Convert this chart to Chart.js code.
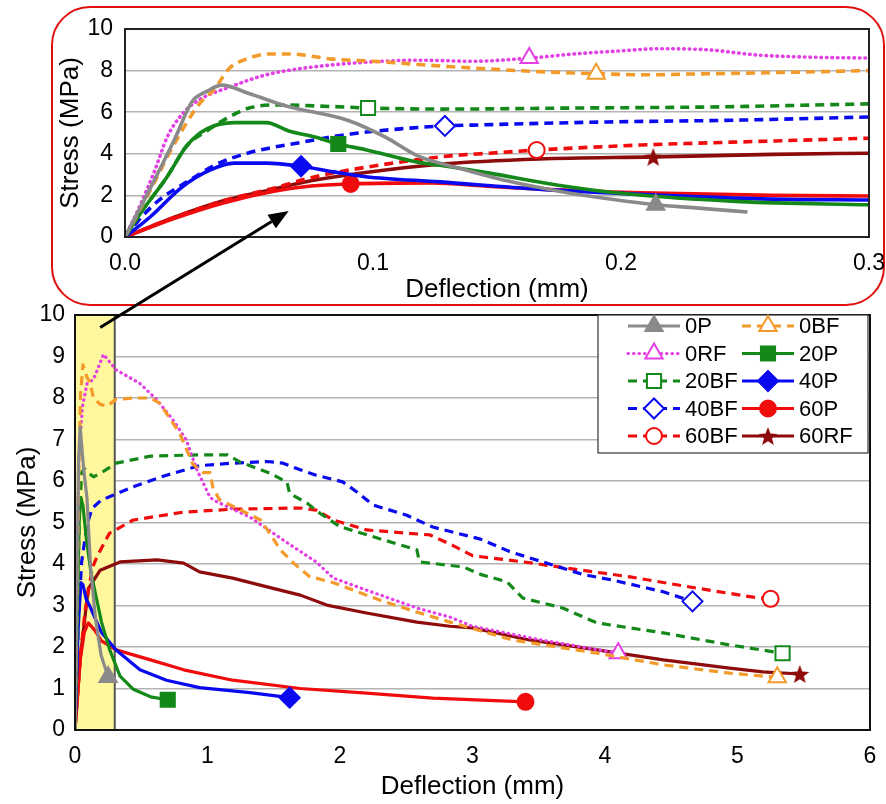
<!DOCTYPE html>
<html>
<head>
<meta charset="utf-8">
<script src="https://cdn.jsdelivr.net/npm/chart.js@4.4.0/dist/chart.umd.min.js"></script>
<style>
  html, body { margin: 0; padding: 0; background: #fff; }
  #wrap { position: relative; width: 886px; height: 804px; }
  canvas { position: absolute; left: 0; top: 0; }
  #arrow { pointer-events: none; }
</style>
</head>
<body>
<div id="wrap">
  <canvas id="main" width="886" height="804"></canvas>
  <canvas id="inset" width="886" height="310"></canvas>
  <canvas id="arrow" width="886" height="804"></canvas>
</div>
<script>
const seriesNames = ['0P', '0BF', '0RF', '20P', '20BF', '40P', '40BF', '60P', '60BF', '60RF'];
const seriesColors = ['#8a8a8a', '#f39a2b', '#e43fe4', '#14891a', '#14891a', '#0a0af0', '#0a0af0', '#f00c0c', '#f00c0c', '#8e0b0b'];
const lineKinds = ['solid', 'dash', 'dot', 'solid', 'dash', 'solid', 'dash', 'solid', 'dash', 'solid'];
const markerShapes = ['triangle', 'triangle', 'triangle', 'rect', 'rect', 'rectRot', 'rectRot', 'circle', 'circle', 'star'];
const markerFilled = [true, false, false, true, false, true, false, true, false, true];

// inset curves, deflection 0 - 0.3 mm  [mm, MPa]
const zoom0P = [[0,0],[0.01,2.3],[0.02,4.7],[0.027,6.5],[0.033,7.0],[0.039,7.3],[0.05,6.9],[0.065,6.3],[0.09,5.6],[0.105,4.8],[0.118,3.9],[0.135,3.3],[0.154,2.7],[0.175,2.2],[0.197,1.8],[0.214,1.55],[0.23,1.4],[0.251,1.2]];
const zoom0BF = [[0,0],[0.01,2.2],[0.02,4.5],[0.03,6.4],[0.036,7.1],[0.042,8.1],[0.05,8.6],[0.058,8.8],[0.066,8.8],[0.084,8.55],[0.1,8.45],[0.13,8.2],[0.167,7.95],[0.19,7.85],[0.21,7.8],[0.235,7.85],[0.26,7.9],[0.3,8.0]];
const zoom0RF = [[0,0],[0.006,1.5],[0.012,3.2],[0.017,4.8],[0.023,5.9],[0.03,6.6],[0.042,7.2],[0.057,7.8],[0.071,8.1],[0.091,8.35],[0.118,8.5],[0.14,8.45],[0.163,8.6],[0.181,8.8],[0.2,8.95],[0.215,9.05],[0.235,9.0],[0.255,8.75],[0.275,8.65],[0.3,8.6]];
const zoom20P = [[0,0],[0.006,1.1],[0.017,2.9],[0.025,4.4],[0.033,5.2],[0.044,5.5],[0.057,5.5],[0.066,5.1],[0.077,4.8],[0.086,4.47],[0.097,4.2],[0.118,3.6],[0.127,3.45],[0.147,3.07],[0.174,2.5],[0.2,2.1],[0.248,1.7],[0.3,1.55]];
const zoom20BF = [[0,0],[0.006,1.1],[0.017,2.9],[0.025,4.4],[0.033,5.1],[0.041,5.7],[0.05,6.2],[0.061,6.35],[0.084,6.27],[0.098,6.2],[0.127,6.15],[0.181,6.2],[0.235,6.25],[0.3,6.4]];
const zoom40P = [[0,0],[0.01,0.95],[0.023,2.4],[0.034,3.2],[0.044,3.55],[0.057,3.55],[0.071,3.4],[0.084,3.13],[0.097,2.9],[0.127,2.65],[0.167,2.3],[0.208,2.05],[0.261,1.82],[0.3,1.78]];
const zoom40BF = [[0,0],[0.007,1.0],[0.014,1.8],[0.025,2.65],[0.037,3.5],[0.05,4.05],[0.071,4.55],[0.091,4.95],[0.111,5.2],[0.129,5.34],[0.14,5.38],[0.194,5.53],[0.248,5.62],[0.3,5.77]];
const zoom60P = [[0,0],[0.02,0.9],[0.04,1.65],[0.06,2.2],[0.075,2.45],[0.091,2.55],[0.124,2.6],[0.145,2.45],[0.167,2.3],[0.208,2.12],[0.261,2.0],[0.3,1.97]];
const zoom60BF = [[0,0],[0.02,0.95],[0.04,1.75],[0.06,2.35],[0.075,2.85],[0.097,3.35],[0.131,3.9],[0.147,4.03],[0.166,4.18],[0.208,4.42],[0.248,4.57],[0.3,4.75]];
const zoom60RF = [[0,0],[0.02,0.95],[0.04,1.75],[0.06,2.3],[0.075,2.7],[0.097,3.1],[0.127,3.5],[0.167,3.75],[0.213,3.85],[0.261,3.97],[0.3,4.03]];
const zoomMarkX = [0.214, 0.19, 0.163, 0.086, 0.098, 0.071, 0.129, 0.091, 0.166, 0.213];

// full curves, deflection 0 - 6 mm
const full0P = [[0,0],[0.027,6.5],[0.039,7.3],[0.065,6.3],[0.09,5.6],[0.118,3.9],[0.154,2.7],[0.197,1.8],[0.25,1.28]];
const full0BF = [[0,0],[0.03,6.4],[0.042,8.1],[0.06,8.8],[0.09,8.5],[0.11,8.4],[0.14,8.0],[0.19,7.85],[0.24,7.8],[0.31,7.97],[0.45,8.0],[0.57,8.0],[0.64,7.87],[0.79,7.15],[0.89,6.4],[0.97,6.2],[1.02,6.2],[1.04,5.85],[1.09,5.55],[1.25,5.3],[1.4,5.06],[1.47,4.74],[1.55,4.34],[1.65,4.02],[1.77,3.7],[1.95,3.55],[2.3,3.13],[2.58,2.84],[2.83,2.6],[3.3,2.17],[3.94,1.85],[4.44,1.57],[4.94,1.37],[5.3,1.27]];
const full0RF = [[0,0],[0.012,3.2],[0.03,6.6],[0.057,7.8],[0.091,8.35],[0.14,8.45],[0.215,9.05],[0.31,8.68],[0.49,8.35],[0.62,7.95],[0.74,7.47],[0.84,6.99],[0.92,6.27],[1.02,5.6],[1.07,5.5],[1.32,5.13],[1.57,4.58],[1.82,4.05],[1.95,3.66],[2.2,3.37],[2.58,2.94],[2.83,2.72],[3.0,2.5],[3.5,2.18],[4.1,1.85]];
const full20P = [[0,0],[0.017,2.9],[0.033,5.2],[0.045,5.6],[0.06,5.4],[0.086,4.6],[0.12,3.8],[0.16,3.2],[0.2,2.6],[0.26,1.95],[0.34,1.3],[0.44,0.98],[0.57,0.8],[0.7,0.73]];
const full20BF = [[0,0],[0.017,2.9],[0.033,5.1],[0.05,6.2],[0.07,6.3],[0.1,6.2],[0.14,6.1],[0.2,6.2],[0.31,6.43],[0.57,6.6],[0.94,6.63],[1.15,6.63],[1.25,6.45],[1.47,6.19],[1.6,5.97],[1.62,5.7],[1.75,5.47],[1.85,5.22],[2.0,4.9],[2.33,4.58],[2.58,4.34],[2.6,4.05],[2.93,3.93],[3.06,3.75],[3.26,3.57],[3.38,3.18],[3.68,2.94],[3.94,2.58],[4.44,2.34],[4.94,2.05],[5.34,1.85]];
const full40P = [[0,0],[0.023,2.4],[0.044,3.55],[0.06,3.5],[0.085,3.15],[0.11,3.0],[0.15,2.7],[0.2,2.35],[0.31,1.93],[0.49,1.45],[0.69,1.2],[0.94,1.02],[1.32,0.9],[1.62,0.78]];
const full40BF = [[0,0],[0.025,2.65],[0.05,4.05],[0.091,4.95],[0.129,5.34],[0.194,5.53],[0.26,5.62],[0.44,5.86],[0.69,6.14],[0.94,6.37],[1.19,6.43],[1.45,6.47],[1.57,6.43],[1.7,6.27],[1.82,6.14],[2.02,5.98],[2.13,5.73],[2.25,5.42],[2.5,5.18],[2.7,4.89],[3.06,4.6],[3.28,4.3],[3.58,4.0],[3.83,3.75],[4.06,3.61],[4.44,3.33],[4.66,3.1]];
const full60P = [[0,0],[0.04,1.7],[0.07,2.35],[0.1,2.58],[0.15,2.4],[0.2,2.15],[0.31,1.93],[0.57,1.69],[0.82,1.45],[1.19,1.2],[1.7,1.0],[2.2,0.89],[2.7,0.77],[3.4,0.68]];
const full60BF = [[0,0],[0.04,1.75],[0.075,2.85],[0.131,3.9],[0.166,4.18],[0.26,4.74],[0.44,5.06],[0.82,5.25],[1.19,5.32],[1.7,5.35],[1.82,5.3],[1.95,5.06],[2.2,4.82],[2.68,4.7],[2.85,4.45],[3.0,4.2],[3.46,4.02],[3.71,3.9],[4.19,3.69],[4.69,3.42],[5.12,3.2],[5.25,3.16]];
const full60RF = [[0,0],[0.04,1.75],[0.1,3.4],[0.19,3.85],[0.34,4.05],[0.62,4.1],[0.82,4.02],[0.94,3.81],[1.19,3.66],[1.45,3.45],[1.7,3.25],[1.9,3.01],[2.2,2.82],[2.58,2.6],[2.83,2.5],[3.0,2.46],[3.43,2.17],[3.94,1.93],[4.44,1.69],[4.94,1.49],[5.19,1.4],[5.47,1.35]];

const zoomCurves = [zoom0P, zoom0BF, zoom0RF, zoom20P, zoom20BF, zoom40P, zoom40BF, zoom60P, zoom60BF, zoom60RF];
const fullCurves = [full0P, full0BF, full0RF, full20P, full20BF, full40P, full40BF, full60P, full60BF, full60RF];

const mainYTicks = [0, 1, 2, 3, 4, 5, 6, 7, 8, 9, 10];
const insetYTicks = [0, 2, 4, 6, 8, 10];
const bandEnd = 0.3;          // shaded zone on the main chart
const arrowFrom = [0.19, 9.7]; // main chart coords
const arrowTo = [0.066, 1.25]; // inset chart coords

const FONT = '"Liberation Sans", Arial, sans-serif';
Chart.defaults.font.family = FONT;
Chart.defaults.color = '#000';
Chart.defaults.animation = false;

function makeStar(color, r) {
  const c = document.createElement('canvas');
  c.width = c.height = Math.ceil(r * 2 + 2);
  const g = c.getContext('2d');
  g.translate(c.width / 2, c.height / 2 + 1);
  g.beginPath();
  for (let i = 0; i < 10; i++) {
    const rad = i % 2 ? r * 0.42 : r;
    const a = -Math.PI / 2 + i * Math.PI / 5;
    g.lineTo(Math.cos(a) * rad, Math.sin(a) * rad);
  }
  g.closePath();
  g.fillStyle = color;
  g.fill();
  return c;
}
const starImg = makeStar(seriesColors[9], 10);

function markerSize(i) {
  return markerShapes[i] === 'circle' ? 8 : 10;
}

function buildSet(i, pts, isMark, smooth, lw) {
  const kind = lineKinds[i];
  const col = seriesColors[i];
  return {
    label: seriesNames[i],
    data: pts.map(p => ({ x: p[0], y: p[1] })),
    borderColor: col,
    borderWidth: lw,
    borderDash: kind === 'dash' ? [9, 6] : kind === 'dot' ? [0.5, 5] : [],
    borderCapStyle: kind === 'dot' ? 'round' : 'butt',
    borderJoinStyle: 'round',
    tension: 0,
    cubicInterpolationMode: smooth ? 'monotone' : 'default',
    pointStyle: markerShapes[i] === 'star' ? starImg : markerShapes[i],
    pointBackgroundColor: markerFilled[i] ? col : '#fff',
    pointBorderColor: col,
    pointBorderWidth: 2,
    pointRadius: c => isMark(c) ? markerSize(i) : 0,
    pointHoverRadius: 0,
    fill: false
  };
}

function drawLegend(chart) {
  const { ctx, chartArea: a } = chart;
  const w = 270, h = 138;
  const bx = a.right - w - 2, by = a.top;
  ctx.save();
  ctx.fillStyle = '#fff';
  ctx.fillRect(bx, by, w, h);
  ctx.strokeStyle = '#333';
  ctx.lineWidth = 1.2;
  ctx.strokeRect(bx, by, w, h);
  ctx.font = '22px ' + FONT;
  ctx.textBaseline = 'middle';
  chart.data.datasets.forEach((ds, i) => {
    const col = i % 2, row = Math.floor(i / 2);
    const x0 = bx + (col ? 144 : 30), y = by + 11 + row * 27.5;
    ctx.strokeStyle = ds.borderColor;
    ctx.lineWidth = ds.borderWidth;
    ctx.setLineDash(ds.borderDash);
    ctx.lineCap = ds.borderCapStyle;
    ctx.beginPath();
    ctx.moveTo(x0, y);
    ctx.lineTo(x0 + 52, y);
    ctx.stroke();
    ctx.setLineDash([]);
    ctx.lineCap = 'butt';
    ctx.fillStyle = ds.pointBackgroundColor;
    ctx.strokeStyle = ds.pointBorderColor;
    ctx.lineWidth = 2;
    Chart.helpers.drawPoint(ctx, { pointStyle: ds.pointStyle, radius: markerSize(i), borderWidth: 2, rotation: 0 }, x0 + 26, y);
    ctx.fillStyle = '#000';
    ctx.textAlign = 'left';
    ctx.fillText(ds.label, x0 + 57, y + 1);
  });
  ctx.restore();
}

const mainDecor = {
  id: 'mainDecor',
  beforeDatasetsDraw(chart) {
    const { ctx, chartArea: a, scales: { x } } = chart;
    const x1 = x.getPixelForValue(0), x2 = x.getPixelForValue(bandEnd);
    ctx.save();
    ctx.fillStyle = '#fff79e';
    ctx.fillRect(x1, a.top, x2 - x1, a.bottom - a.top);
    ctx.strokeStyle = '#555';
    ctx.lineWidth = 2;
    ctx.beginPath();
    ctx.moveTo(x2, a.top);
    ctx.lineTo(x2, a.bottom);
    ctx.stroke();
    ctx.restore();
  },
  afterDatasetsDraw(chart) {
    const { ctx, chartArea: a } = chart;
    ctx.save();
    ctx.strokeStyle = '#111';
    ctx.lineWidth = 2;
    ctx.strokeRect(a.left, a.top, a.right - a.left, a.bottom - a.top);
    ctx.restore();
    drawLegend(chart);
  }
};

const insetDecor = {
  id: 'insetDecor',
  beforeDraw(chart) {
    const ctx = chart.ctx;
    ctx.save();
    ctx.fillStyle = '#fff';
    ctx.strokeStyle = '#e01010';
    ctx.lineWidth = 2;
    ctx.beginPath();
    ctx.roundRect(52, 7, 832, 298, 38);
    ctx.fill();
    ctx.stroke();
    ctx.restore();
  },
  afterDatasetsDraw(chart) {
    const { ctx, chartArea: a } = chart;
    ctx.save();
    ctx.strokeStyle = '#222';
    ctx.lineWidth = 2;
    ctx.strokeRect(a.left, a.top, a.right - a.left, a.bottom - a.top);
    ctx.restore();
  }
};

const mainChart = new Chart(document.getElementById('main'), {
  type: 'line',
  data: {
    datasets: fullCurves.map((pts, i) => buildSet(i, pts, c => c.dataIndex === pts.length - 1, false, 3.2))
  },
  options: {
    responsive: false,
    parsing: false,
    layout: { padding: { top: 315, right: 16, bottom: 0, left: 0 } },
    plugins: { legend: { display: false }, tooltip: { enabled: false } },
    scales: {
      x: {
        type: 'linear', min: 0, max: 6,
        grid: { display: false },
        border: { display: false },
        ticks: { stepSize: 1, padding: 5, font: { size: 23 } },
        title: { display: true, text: 'Deflection (mm)', font: { size: 26 }, padding: { top: 0, bottom: 2 } },
        afterFit(s) { s.height = 74; s.paddingLeft = 0; s.paddingRight = 0; }
      },
      y: {
        type: 'linear', min: 0, max: 10,
        grid: { color: '#b3b3b3', lineWidth: 1.5, drawTicks: false },
        border: { display: false },
        afterBuildTicks(s) { s.ticks = mainYTicks.map(v => ({ value: v })); },
        ticks: { padding: 10, font: { size: 23 } },
        title: { display: true, text: 'Stress (MPa)', font: { size: 26 }, padding: { top: 12, bottom: 0 } },
        afterFit(s) { s.width = 75; s.paddingTop = 0; s.paddingBottom = 0; }
      }
    }
  },
  plugins: [mainDecor]
});

const insetChart = new Chart(document.getElementById('inset'), {
  type: 'line',
  data: {
    datasets: zoomCurves.map((pts, i) => buildSet(i, pts, c => c.raw.x === zoomMarkX[i], true, 3.6))
  },
  options: {
    responsive: false,
    parsing: false,
    layout: { padding: { top: 29, right: 17, bottom: 0, left: 0 } },
    plugins: { legend: { display: false }, tooltip: { enabled: false } },
    scales: {
      x: {
        type: 'linear', min: 0, max: 0.3,
        grid: { display: false },
        border: { display: false },
        ticks: { stepSize: 0.1, padding: 5, font: { size: 23 }, callback: v => v.toFixed(1) },
        title: { display: true, text: 'Deflection (mm)', font: { size: 26 }, padding: { top: 0, bottom: 5 } },
        afterFit(s) { s.height = 73; s.paddingLeft = 0; s.paddingRight = 0; }
      },
      y: {
        type: 'linear', min: 0, max: 10,
        grid: { color: '#b3b3b3', lineWidth: 1.5, drawTicks: false },
        border: { display: false },
        afterBuildTicks(s) { s.ticks = insetYTicks.map(v => ({ value: v })); },
        ticks: { padding: 12, font: { size: 23 } },
        title: { display: true, text: 'Stress (MPa)', font: { size: 26 }, padding: { top: 55, bottom: 0 } },
        afterFit(s) { s.width = 125; s.paddingTop = 0; s.paddingBottom = 0; }
      }
    }
  },
  plugins: [insetDecor]
});

// arrow from the shaded zone up to the inset
(function drawArrow() {
  const ctx = document.getElementById('arrow').getContext('2d');
  const x1 = mainChart.scales.x.getPixelForValue(arrowFrom[0]);
  const y1 = mainChart.scales.y.getPixelForValue(arrowFrom[1]);
  const x2 = insetChart.scales.x.getPixelForValue(arrowTo[0]);
  const y2 = insetChart.scales.y.getPixelForValue(arrowTo[1]);
  const ang = Math.atan2(y2 - y1, x2 - x1);
  const len = 20, half = 8;
  const bx = x2 - Math.cos(ang) * len, by = y2 - Math.sin(ang) * len;
  ctx.strokeStyle = '#000';
  ctx.fillStyle = '#000';
  ctx.lineWidth = 3;
  ctx.beginPath();
  ctx.moveTo(x1, y1);
  ctx.lineTo(bx, by);
  ctx.stroke();
  ctx.beginPath();
  ctx.moveTo(x2, y2);
  ctx.lineTo(bx + Math.sin(ang) * half, by - Math.cos(ang) * half);
  ctx.lineTo(bx - Math.sin(ang) * half, by + Math.cos(ang) * half);
  ctx.closePath();
  ctx.fill();
})();
</script>
</body>
</html>
